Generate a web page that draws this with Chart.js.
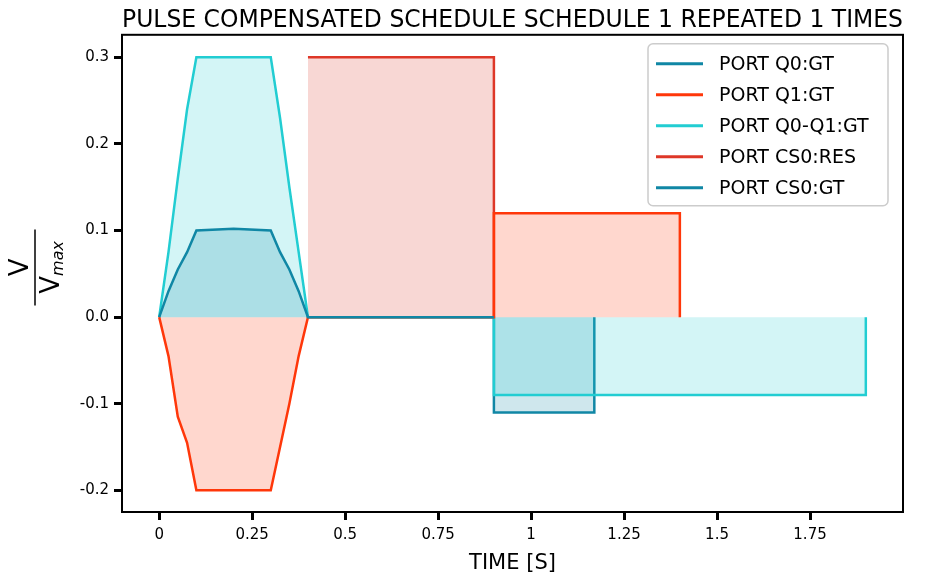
<!DOCTYPE html>
<html>
<head>
<meta charset="utf-8">
<script src="https://cdn.jsdelivr.net/npm/chart.js@4"></script>
<style>
  html, body { margin: 0; padding: 0; background: #fff; }
</style>
</head>
<body>
<canvas id="grafico" width="931" height="583"></canvas>
<script>
// dados (tempo em s, amplitude V/Vmax)
const tempoQ0 = [0, 0.025, 0.05, 0.075, 0.1, 0.2, 0.3, 0.325, 0.35, 0.375, 0.4, 0.9];
const valorQ0 = [0, 0.03, 0.055, 0.075, 0.1, 0.102, 0.1, 0.075, 0.055, 0.03, 0, 0];

const tempoQ1 = [0, 0.025, 0.05, 0.075, 0.1, 0.2, 0.3, 0.325, 0.35, 0.375, 0.4, 0.9, 0.9, 1.4, 1.4];
const valorQ1 = [0, -0.045, -0.115, -0.145, -0.2, -0.2, -0.2, -0.15, -0.1, -0.045, 0, 0, 0.12, 0.12, 0];

const tempoQ0Q1 = [0, 0.025, 0.05, 0.075, 0.1, 0.2, 0.3, 0.325, 0.35, 0.375, 0.4, 0.9, 0.9, 1.9, 1.9];
const valorQ0Q1 = [0, 0.075, 0.16, 0.24, 0.3, 0.3, 0.3, 0.23, 0.15, 0.075, 0, 0, -0.09, -0.09, 0];

const tempoRes = [0.4, 0.9, 0.9];
const valorRes = [0.3, 0.3, 0];

const tempoCsGt = [0.9, 0.9, 1.17, 1.17];
const valorCsGt = [0, -0.11, -0.11, 0];

const nomes = ["PORT Q0:GT", "PORT Q1:GT", "PORT Q0-Q1:GT", "PORT CS0:RES", "PORT CS0:GT"];
const cores = ["#1087a5", "#ff370a", "#22cdd2", "#de3728", "#1087a5"];

const xTicks = [0, 0.25, 0.5, 0.75, 1, 1.25, 1.5, 1.75];
const yTicks = [-0.2, -0.1, 0, 0.1, 0.2, 0.3];

const titulo = "PULSE COMPENSATED SCHEDULE SCHEDULE 1 REPEATED 1 TIMES";
const tituloX = "TIME [S]";

const fonte = "'DejaVu Sans', sans-serif";

function pontos(ts, vs) {
  return ts.map((t, i) => ({ x: t, y: vs[i] }));
}

function hexRgba(hex, a) {
  const n = parseInt(hex.slice(1), 16);
  return `rgba(${(n >> 16) & 255},${(n >> 8) & 255},${n & 255},${a})`;
}

const series = [
  pontos(tempoQ0, valorQ0),
  pontos(tempoQ1, valorQ1),
  pontos(tempoQ0Q1, valorQ0Q1),
  pontos(tempoRes, valorRes),
  pontos(tempoCsGt, valorCsGt)
];

const datasets = series.map((d, i) => ({
  label: nomes[i],
  data: d,
  showLine: true,
  borderColor: cores[i],
  backgroundColor: hexRgba(cores[i], 0.2),
  borderWidth: 2.5,
  pointRadius: 0,
  fill: "origin",
  tension: 0
}));

// moldura completa em volta da area
const moldura = {
  id: "moldura",
  afterDraw(chart) {
    const { ctx, chartArea: a } = chart;
    ctx.save();
    ctx.strokeStyle = "#000";
    ctx.lineWidth = 2;
    ctx.strokeRect(a.left, a.top, a.right - a.left, a.bottom - a.top);
    ctx.restore();
  }
};

// legenda dentro do grafico, canto superior direito
const legenda = {
  id: "legenda",
  afterDraw(chart) {
    const { ctx, chartArea: a } = chart;
    const x0 = a.right - 255, y0 = a.top + 9, w = 240, h = 162;
    ctx.save();
    ctx.fillStyle = "rgba(255,255,255,0.85)";
    ctx.strokeStyle = "#cccccc";
    ctx.lineWidth = 1.5;
    ctx.beginPath();
    ctx.roundRect(x0, y0, w, h, 5);
    ctx.fill();
    ctx.stroke();
    ctx.font = "19px " + fonte;
    ctx.textBaseline = "middle";
    ctx.fillStyle = "#000";
    chart.data.datasets.forEach((ds, i) => {
      const y = y0 + 20 + i * 31;
      ctx.strokeStyle = ds.borderColor;
      ctx.lineWidth = 3;
      ctx.beginPath();
      ctx.moveTo(x0 + 8, y);
      ctx.lineTo(x0 + 55, y);
      ctx.stroke();
      ctx.fillText(ds.label, x0 + 71, y + 1);
    });
    ctx.restore();
  }
};

// rotulo do eixo y como fracao V / Vmax
const rotuloY = {
  id: "rotuloY",
  afterDraw(chart) {
    const { ctx, chartArea: a } = chart;
    const cy = (a.top + a.bottom) / 2 - 6;
    ctx.save();
    ctx.translate(38, cy);
    ctx.rotate(-Math.PI / 2);
    ctx.fillStyle = "#000";
    ctx.textBaseline = "alphabetic";
    ctx.textAlign = "center";
    ctx.font = "26px " + fonte;
    ctx.fillText("V", 0, -10);
    ctx.strokeStyle = "#000";
    ctx.lineWidth = 1.5;
    ctx.beginPath();
    ctx.moveTo(-38, -3);
    ctx.lineTo(38, -3);
    ctx.stroke();
    ctx.textAlign = "left";
    const wv = ctx.measureText("V").width;
    ctx.font = "italic 16px " + fonte;
    const wm = ctx.measureText("max").width;
    const inicio = -(wv + wm) / 2;
    ctx.font = "26px " + fonte;
    ctx.fillText("V", inicio, 21);
    ctx.font = "italic 16px " + fonte;
    ctx.fillText("max", inicio + wv, 25);
    ctx.restore();
  }
};

new Chart(document.getElementById("grafico"), {
  type: "scatter",
  data: { datasets },
  options: {
    responsive: false,
    animation: false,
    layout: { padding: { right: 28, left: 0, top: 0, bottom: 0 } },
    plugins: {
      legend: { display: false },
      tooltip: { enabled: false },
      title: {
        display: true,
        fullSize: false,
        text: titulo,
        color: "#000",
        font: { family: fonte, size: 24, weight: "normal" },
        padding: { top: 6, bottom: 0 }
      }
    },
    scales: {
      x: {
        type: "linear",
        min: -0.1,
        max: 2.0,
        afterBuildTicks: s => { s.ticks = xTicks.map(v => ({ value: v })); },
        afterFit: s => { s.height = 71; },
        ticks: {
          color: "#000",
          font: { family: fonte, size: 15 },
          padding: 6,
          callback: v => String(v)
        },
        grid: {
          drawOnChartArea: false,
          color: "#000",
          tickColor: "#000",
          tickLength: 8,
          tickWidth: 3
        },
        border: { display: true, color: "#000", width: 2 },
        title: {
          display: true,
          text: tituloX,
          color: "#000",
          font: { family: fonte, size: 21 },
          padding: { top: 2, bottom: 7 }
        }
      },
      y: {
        min: -0.225,
        max: 0.326,
        afterBuildTicks: s => { s.ticks = yTicks.map(v => ({ value: v })); },
        afterFit: s => { s.width = 122; },
        ticks: {
          color: "#000",
          font: { family: fonte, size: 15 },
          padding: 5,
          callback: v => v.toFixed(1)
        },
        grid: {
          drawOnChartArea: false,
          color: "#000",
          tickColor: "#000",
          tickLength: 8,
          tickWidth: 3
        },
        border: { display: true, color: "#000", width: 2 }
      }
    }
  },
  plugins: [moldura, legenda, rotuloY]
});
</script>
</body>
</html>
